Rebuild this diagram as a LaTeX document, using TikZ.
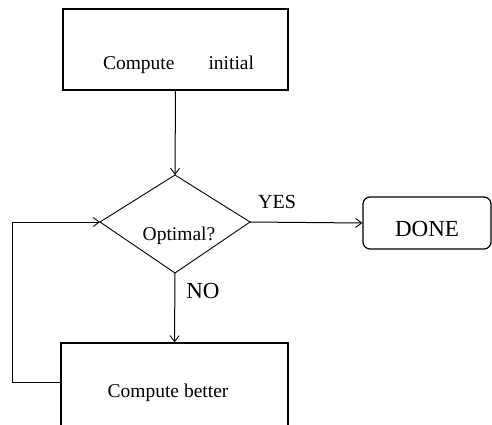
\documentclass[tikz,border=0pt]{standalone}
\usepackage{fontspec}
\setmainfont{Liberation Serif}
\usetikzlibrary{arrows.meta}
\begin{document}
\begin{tikzpicture}[x=1pt,y=-1pt,
  boxstyle/.style={draw, line width=1.2pt, inner sep=0pt},
  conn/.style={line width=1pt, -{Straight Barb[length=6pt,width=9pt,line width=0.9pt]}},
  txt/.style={font=\fontsize{19.5}{22}\selectfont, inner sep=0pt},
  lbl/.style={font=\fontsize{22}{26}\selectfont, inner sep=0pt}]
\useasboundingbox (0,0) rectangle (492,425);
\clip (0,0) rectangle (492,425);
% top box
\node[boxstyle, minimum width=225pt, minimum height=81pt] (init) at (175.5,49.5) {};
\node[txt] (initt) at (178.5,65) {Compute\hspace{34pt}initial};
% diamond
\coordinate (dtop) at (175,175);
\coordinate (dleft) at (100,222);
\coordinate (dright) at (250,222);
\coordinate (dbot) at (175,273);
\draw[line width=0.9pt] (dtop) -- (dright) -- (dbot) -- (dleft) -- cycle;
\node[txt] (opt) at (179,236) {Optimal?};
% DONE
\node[boxstyle, rounded corners=7pt, minimum width=128pt, minimum height=52pt] (done) at (427,223) {};
\node[lbl, font=\fontsize{23}{26}\selectfont] (donet) at (427,229) {DONE};
% bottom box
\node[boxstyle, minimum width=227pt, minimum height=92pt] (better) at (174.5,389) {};
\node[txt] (bettert) at (168,393) {Compute better};
% connectors
\draw[conn] (init.south) -- (dtop);
\draw[conn] (dright) -- (done.west);
\node[lbl, font=\fontsize{20}{24}\selectfont] (yes) at (277,202) {YES};
\draw[conn] (dbot) -- (better.north);
\node[lbl, font=\fontsize{23}{26}\selectfont] (no) at (203,291) {NO};
\coordinate (lb) at (12,382);
\coordinate (lt) at (12,222);
\draw[conn] (61,382) -- (lb) -- (lt) -- (dleft);
\end{tikzpicture}
\end{document}
